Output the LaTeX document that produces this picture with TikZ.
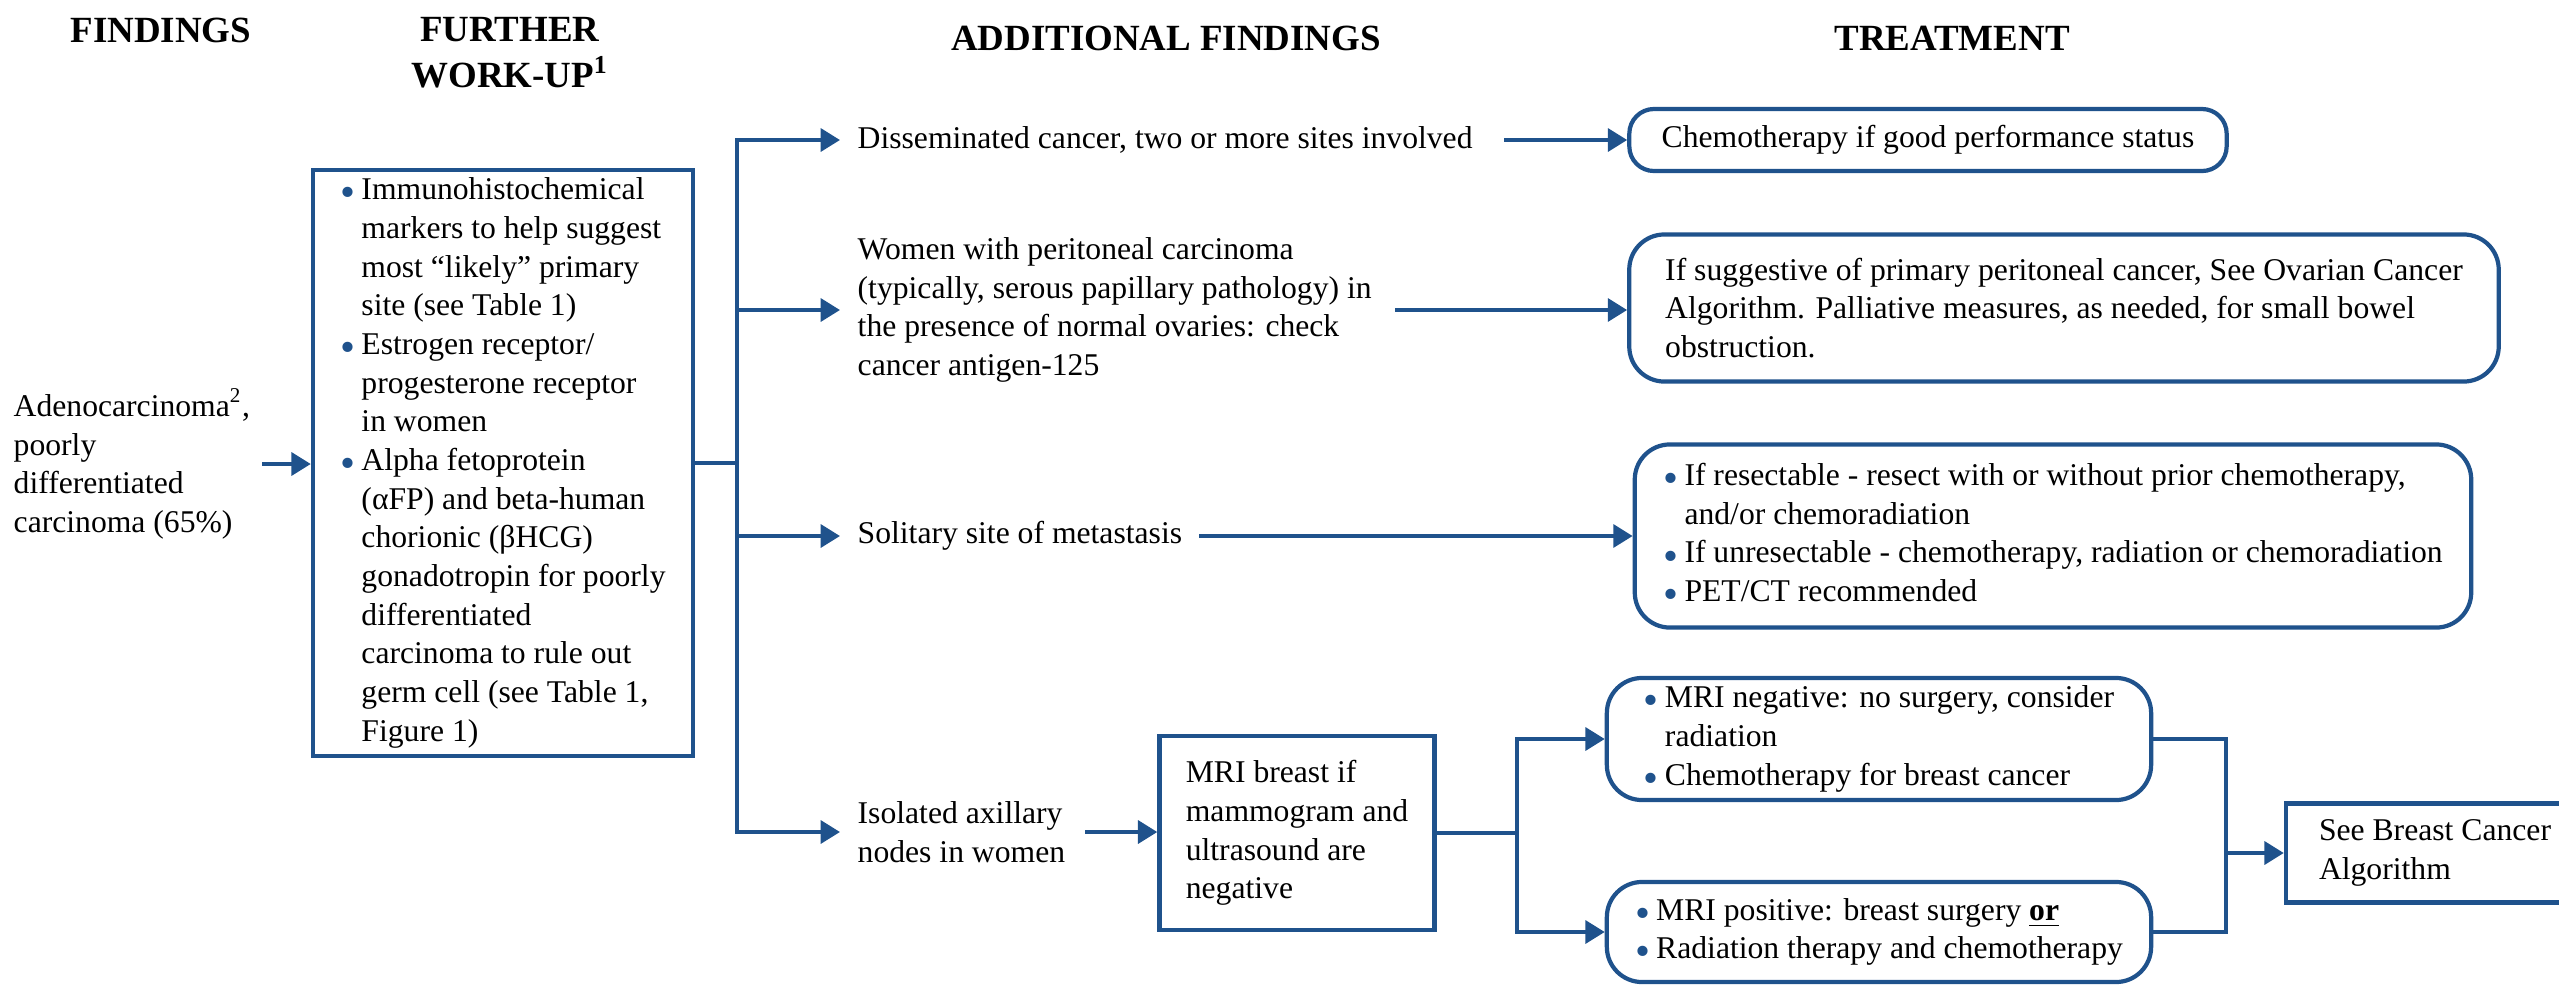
\documentclass[tikz,border=0pt]{standalone}
\usepackage{fontspec}
\setmainfont{Liberation Serif}
\usepackage{graphicx}
\usetikzlibrary{arrows.meta}
\definecolor{flowblue}{RGB}{31,82,140}
\newlength{\bulw}\setlength{\bulw}{6pt}
\newcommand{\bul}{\makebox[\bulw][l]{\textcolor{flowblue}{\raisebox{-2pt}{\scalebox{1.35}{\textbullet}}}}}
\newcommand{\ind}{\hspace*{\bulw}}
\tikzset{
	hdr/.style={font=\fontsize{10.5}{13}\selectfont\bfseries, align=center, inner sep=0pt},
	txt/.style={font=\fontsize{9}{11}\selectfont, align=left, inner sep=0pt},
	sqbox/.style={txt, draw=flowblue, line width=1.2pt},
	rbox/.style={sqbox, rounded corners=10pt},
	link/.style={draw=flowblue, line width=1.1pt, line cap=rect},
	arr/.style={link, -{Triangle[length=5.5pt,width=6.5pt]}}
}
\begin{document}
\begin{tikzpicture}[x=0.01cm, y=-0.01cm]
	\useasboundingbox (0,0) rectangle (2559,984);

	\node[hdr] (h1) at (161,30)  {FINDINGS};
	\node[hdr] (h2) at (510,53)  {FURTHER\\WORK-UP\textsuperscript{1}};
	\node[hdr] (h3) at (1166,38) {ADDITIONAL FINDINGS};
	\node[hdr] (h4) at (1952,38) {TREATMENT};

	\node[txt, anchor=west] (adeno) at (13,464) {Adenocarcinoma\textsuperscript{2},\\poorly\\differentiated\\carcinoma (65\%)};
	\node[sqbox, minimum width=3.8cm, minimum height=5.86cm] (workup) at (503,463)
		{\bul Immunohistochemical\\\ind markers to help suggest\\\ind most “likely” primary\\\ind site (see Table 1)\\
		 \bul Estrogen receptor/\\\ind progesterone receptor\\\ind in women\\
		 \bul Alpha fetoprotein\\\ind (αFP) and beta-human\\\ind chorionic (βHCG)\\\ind gonadotropin for poorly\\\ind differentiated\\\ind carcinoma to rule out\\\ind germ cell (see Table 1,\\\ind Figure 1)};

	\node[txt, anchor=west] (dissem) at (857,140) {Disseminated cancer, two or more sites involved};
	\node[txt, anchor=west] (women)  at (857,310) {Women with peritoneal carcinoma\\(typically, serous papillary pathology) in\\the presence of normal ovaries: check\\cancer antigen-125};
	\node[txt, anchor=west] (solit)  at (857,536) {Solitary site of metastasis};
	\node[txt, anchor=west] (axil)   at (857,832) {Isolated axillary\\nodes in women};

	\node[rbox, rounded corners=7pt, minimum width=5.97cm, minimum height=0.62cm] (chemo) at (1928,140) {Chemotherapy if good performance status};
	\node[rbox, minimum width=8.69cm, minimum height=1.47cm] (ovar) at (2064,308)
		{If suggestive of primary peritoneal cancer, See Ovarian Cancer\\Algorithm. Palliative measures, as needed, for small bowel\\obstruction.};
	\node[rbox, minimum width=8.36cm, minimum height=1.83cm] (resect) at (2053,536)
		{\bul If resectable - resect with or without prior chemotherapy,\\\ind and/or chemoradiation\\\bul If unresectable - chemotherapy, radiation or chemoradiation\\\bul PET/CT recommended};
	\node[sqbox, minimum width=2.75cm, minimum height=1.94cm] (mri) at (1297,833) {MRI breast if\\mammogram and\\ultrasound are\\negative};
	\node[rbox, minimum width=5.44cm, minimum height=1.22cm] (mrineg) at (1879,739)
		{\bul MRI negative: no surgery, consider\\\ind radiation\\\bul Chemotherapy for breast cancer};
	\node[rbox, minimum width=5.44cm, minimum height=1.0cm] (mripos) at (1879,932)
		{\bul MRI positive: breast surgery \textbf{\underline{or}}\\\bul Radiation therapy and chemotherapy};
	\node[sqbox, minimum width=2.98cm, minimum height=0.99cm] (breast) at (2435,853) {See Breast Cancer\\Algorithm};

	\draw[arr, shorten <=0.13cm] (adeno.east) -- (adeno.east -| workup.west);
	\coordinate (br) at (737,463);
	\draw[link] (workup.east) -- (br);
	\draw[link] (br |- dissem.west) -- (br |- axil.west);
	\foreach \n in {dissem,women,solit,axil}
		\draw[arr, shorten >=0.17cm] (br |- \n.west) -- (\n.west);

	\draw[arr, shorten <=0.33cm] (dissem.east) -- (chemo.west);
	\draw[arr, shorten <=0.25cm] (women.east) -- (women.east -| ovar.west);
	\draw[arr, shorten <=0.18cm] (solit.east) -- (solit.east -| resect.west);
	\draw[arr, shorten <=0.21cm] (axil.east) -- (axil.east -| mri.west);

	\coordinate (mb) at (1517,833);
	\draw[link] (mri.east) -- (mb);
	\draw[link] (mb |- mrineg.west) -- (mb |- mripos.west);
	\draw[arr] (mb |- mrineg.west) -- (mrineg.west);
	\draw[arr] (mb |- mripos.west) -- (mripos.west);
	\coordinate (jn) at (2226,853);
	\draw[link] (mrineg.east) -| (jn) |- (mripos.east);
	\draw[arr] (jn) -- (breast.west);
\end{tikzpicture}
\end{document}
